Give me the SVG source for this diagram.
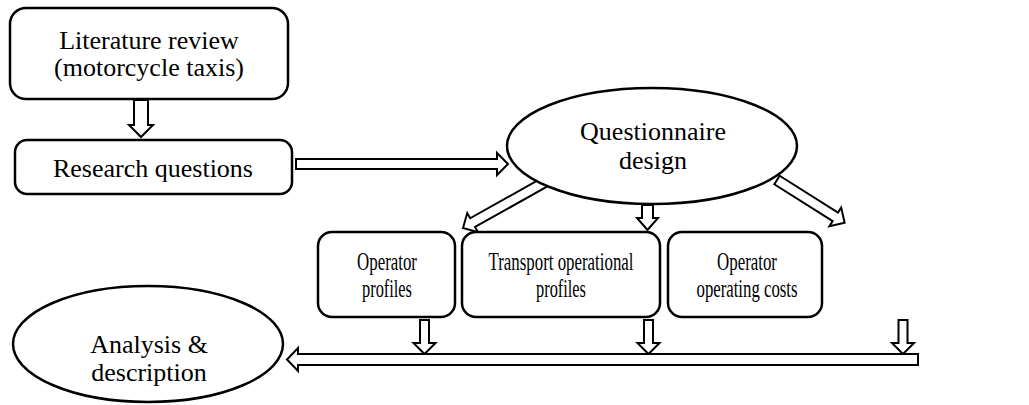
<svg xmlns="http://www.w3.org/2000/svg" width="1029" height="405" viewBox="0 0 1029 405">
<style>
.box{fill:#fff;stroke:#000;stroke-width:2.5}
.arr{fill:#fff;stroke:#000;stroke-width:2;stroke-linejoin:miter}
.t{font-family:"Liberation Serif","Times New Roman",serif;fill:#000;text-anchor:middle}
.big{font-size:26px}
.sm{font-size:25.5px}
</style>
<rect width="1029" height="405" fill="#fff"/>
<g id="connectors">
<polygon class="arr" points="134,100 148,100 148,125 153,125 141,137 129,125 134,125"/>
<polygon class="arr" points="296,159 497,159 497,153 508,164 497,175 497,169 296,169"/>
<polygon class="arr" points="642,205 653,205 653,218 658,218 647.5,230 637,218 642,218"/>
<polygon class="arr" transform="translate(545,182) rotate(150.7)" points="0,-5 83,-5 83,-11 94,0 83,11 83,5 0,5"/>
<polygon class="arr" transform="translate(777,180) rotate(32.3)" points="0,-5 69,-5 69,-11 80,0 69,11 69,5 0,5"/>
<polygon class="arr" points="420,320 429,320 429,343 435.5,343 424.5,354 413.5,343 420,343"/>
<polygon class="arr" points="644,320 653,320 653,343 659.5,343 648.5,354 637.5,343 644,343"/>
<polygon class="arr" points="898.5,320 907.5,320 907.5,343 914,343 903,354 892,343 898.5,343"/>
<polygon class="arr" points="918,354 298,354 298,348 287,359.5 298,371 298,365 918,365"/>
</g>
<g id="literature">
<rect class="box" x="10" y="8" width="278" height="91" rx="16"/>
<text class="t big" x="149" y="49">Literature review</text>
<text class="t big" x="149" y="76">(motorcycle taxis)</text>
</g>
<g id="research">
<rect class="box" x="15" y="140" width="277" height="54" rx="12"/>
<text class="t big" x="153" y="177">Research questions</text>
</g>
<g id="questionnaire">
<ellipse class="box" cx="652" cy="146" rx="145" ry="58"/>
<text class="t big" x="653" y="140">Questionnaire</text>
<text class="t big" x="653" y="169">design</text>
</g>
<g id="operator-profiles">
<rect class="box" x="318" y="232" width="137" height="85" rx="14"/>
<text class="t sm" x="387" y="270" textLength="60" lengthAdjust="spacingAndGlyphs">Operator</text>
<text class="t sm" x="387" y="297" textLength="50" lengthAdjust="spacingAndGlyphs">profiles</text>
</g>
<g id="transport-profiles">
<rect class="box" x="462" y="232" width="198" height="85" rx="14"/>
<text class="t sm" x="561" y="270" textLength="145" lengthAdjust="spacingAndGlyphs">Transport operational</text>
<text class="t sm" x="561" y="297" textLength="50" lengthAdjust="spacingAndGlyphs">profiles</text>
</g>
<g id="operating-costs">
<rect class="box" x="668" y="232" width="154" height="85" rx="14"/>
<text class="t sm" x="747" y="270" textLength="60" lengthAdjust="spacingAndGlyphs">Operator</text>
<text class="t sm" x="747" y="297" textLength="101" lengthAdjust="spacingAndGlyphs">operating costs</text>
</g>
<g id="analysis">
<ellipse class="box" cx="148" cy="344" rx="135" ry="58"/>
<text class="t big" x="149" y="353">Analysis &amp;</text>
<text class="t big" x="149" y="381">description</text>
</g>
</svg>
